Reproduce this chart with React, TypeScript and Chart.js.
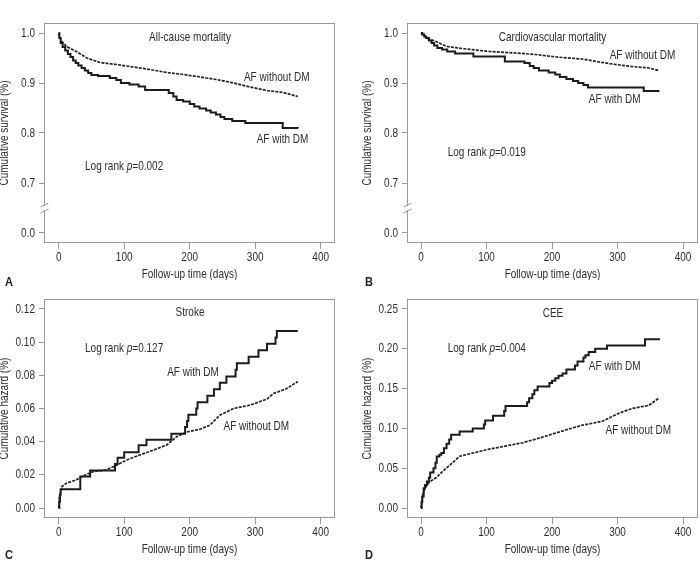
import React, { useEffect, useRef } from "react";
import { Chart, registerables } from "chart.js";

Chart.register(...registerables);

// ---------------- DATA ----------------
// Panel A – All-cause mortality (cumulative survival)
const allCauseWithDM: [number, number][] = [
  [0, 1.0], [1, 0.99], [3, 0.98], [6, 0.972], [10, 0.965], [14, 0.958], [18, 0.952],
  [22, 0.945], [26, 0.94], [30, 0.935], [35, 0.93], [40, 0.925], [45, 0.92], [50, 0.916],
  [60, 0.914], [78, 0.91], [88, 0.906], [95, 0.9], [108, 0.897], [122, 0.893], [132, 0.886],
  [168, 0.88], [175, 0.873], [180, 0.866], [190, 0.863], [200, 0.858], [207, 0.853],
  [215, 0.849], [225, 0.845], [232, 0.841], [240, 0.837], [247, 0.832], [253, 0.828],
  [265, 0.824], [285, 0.82], [342, 0.81], [365, 0.809],
];
const allCauseWithoutDM: [number, number][] = [
  [0, 1.0], [2, 0.99], [5, 0.983], [12, 0.973], [27, 0.963], [43, 0.95], [63, 0.941],
  [88, 0.937], [114, 0.932], [139, 0.927], [165, 0.921], [190, 0.917], [216, 0.912],
  [241, 0.907], [267, 0.9], [292, 0.892], [318, 0.885], [343, 0.881], [365, 0.873],
];

// Panel B – Cardiovascular mortality (cumulative survival)
const cvWithDM: [number, number][] = [
  [0, 1.0], [2, 0.997], [5, 0.993], [8, 0.99], [12, 0.985], [16, 0.98], [20, 0.975],
  [25, 0.97], [32, 0.967], [40, 0.963], [52, 0.959], [80, 0.953], [128, 0.943],
  [158, 0.94], [166, 0.934], [172, 0.93], [180, 0.925], [195, 0.921], [205, 0.917],
  [212, 0.912], [222, 0.908], [232, 0.904], [240, 0.9], [248, 0.896], [255, 0.891],
  [340, 0.884], [364, 0.884],
];
const cvWithoutDM: [number, number][] = [
  [0, 1.0], [8, 0.99], [23, 0.983], [39, 0.973], [69, 0.968], [104, 0.963], [145, 0.96],
  [175, 0.957], [206, 0.952], [246, 0.948], [272, 0.942], [297, 0.937], [322, 0.933],
  [348, 0.93], [363, 0.925],
];

// Panel C – Stroke (cumulative hazard)
const strokeWithDM: [number, number][] = [
  [0, 0], [1, 0.004], [2, 0.008], [3, 0.0114], [33, 0.019], [48, 0.0227], [86, 0.0265],
  [90, 0.0303], [100, 0.0337], [122, 0.0378], [134, 0.0412], [172, 0.0448], [193, 0.0488],
  [196, 0.0525], [198, 0.0562], [210, 0.06], [212, 0.0638], [227, 0.0677], [237, 0.0716],
  [246, 0.0755], [256, 0.0793], [270, 0.0833], [272, 0.0872], [290, 0.0912], [305, 0.0951],
  [318, 0.099], [331, 0.1028], [333, 0.1067], [365, 0.1067],
];
const strokeWithoutDM: [number, number][] = [
  [0, 0], [1, 0.007], [5, 0.013], [12, 0.015], [27, 0.017], [38, 0.0195], [53, 0.022],
  [73, 0.023], [89, 0.026], [104, 0.029], [124, 0.032], [145, 0.035], [165, 0.038],
  [180, 0.043], [195, 0.0458], [216, 0.0475], [231, 0.05], [246, 0.056], [267, 0.06],
  [292, 0.062], [318, 0.0657], [328, 0.069], [348, 0.072], [365, 0.0763],
];

// Panel D – CEE (cumulative hazard)
const ceeWithDM: [number, number][] = [
  [0, 0], [1, 0.008], [2, 0.0146], [4, 0.025], [6, 0.029], [9, 0.0334], [12, 0.038],
  [14, 0.0447], [19, 0.05], [22, 0.057], [24, 0.0648], [28, 0.067], [31, 0.069], [35, 0.075],
  [39, 0.0807], [43, 0.086], [46, 0.092], [59, 0.096], [79, 0.1], [96, 0.105], [98, 0.11],
  [110, 0.116], [127, 0.122], [129, 0.128], [162, 0.133], [165, 0.138], [170, 0.143],
  [173, 0.148], [178, 0.1526], [196, 0.157], [200, 0.16], [205, 0.163], [210, 0.166],
  [216, 0.169], [222, 0.174], [235, 0.179], [239, 0.184], [248, 0.189], [251, 0.192],
  [256, 0.196], [266, 0.2], [284, 0.204], [342, 0.212], [365, 0.212],
];
const ceeWithoutDM: [number, number][] = [
  [0, 0], [2, 0.0146], [6, 0.025], [13, 0.033], [23, 0.038], [33, 0.046], [44, 0.054],
  [59, 0.065], [84, 0.07], [104, 0.074], [130, 0.078], [155, 0.082], [175, 0.0865],
  [201, 0.093], [221, 0.098], [246, 0.104], [277, 0.109], [302, 0.119], [322, 0.125],
  [348, 0.129], [363, 0.138],
];

// Ticks
const xTickValues = [0, 100, 200, 300, 400];
const xTickLabels = ["0", "100", "200", "300", "400"];
const survivalTickValues = [0.6, 0.7, 0.8, 0.9, 1.0]; // 0.6 position shows broken-axis "0.0"
const survivalTickLabels = ["0.0", "0.7", "0.8", "0.9", "1.0"];
const strokeTickValues = [0, 0.02, 0.04, 0.06, 0.08, 0.1, 0.12];
const strokeTickLabels = ["0.00", "0.02", "0.04", "0.06", "0.08", "0.10", "0.12"];
const ceeTickValues = [0, 0.05, 0.1, 0.15, 0.2, 0.25];
const ceeTickLabels = ["0.00", "0.05", "0.10", "0.15", "0.20", "0.25"];

// Text
const xAxisTitle = "Follow-up time (days)";
const survivalTitle = "Cumulative survival (%)";
const hazardTitle = "Cumulative hazard (%)";
const withLabel = "AF with DM";
const withoutLabel = "AF without DM";

// ---------------- STYLE ----------------
const FONT = "'Liberation Sans', Arial, sans-serif";
const FONT_SIZE = 13;
const CONDENSE = 0.77;
const TEXT = "#2e2e2e";
const FRAME = "#9a9a9a";
const LINE = "#1c1c1c";

type Pt = [number, number];
interface PanelCfg {
  key: string;
  left: number;
  top: number;
  area: { l: number; r: number; t: number; b: number };
  xMin: number;
  xMax: number;
  yMin: number;
  yMax: number;
  yTicks: number[];
  yLabels: string[];
  yTitle: string;
  broken: boolean;
  withDM: Pt[];
  withoutDM: Pt[];
  title: string;
  titlePos: [number, number];
  logRank: string;
  logRankPos: [number, number];
  withPos: [number, number];
  withoutPos: [number, number];
}

const W = 350;
const H = 280;

const panels: PanelCfg[] = [
  {
    key: "A", left: 0, top: 0,
    area: { l: 44, r: 335, t: 23, b: 243 },
    xMin: -22.4, xMax: 421.8, yMin: 0.58, yMax: 1.02,
    yTicks: survivalTickValues, yLabels: survivalTickLabels, yTitle: survivalTitle, broken: true,
    withDM: allCauseWithDM, withoutDM: allCauseWithoutDM,
    title: "All-cause mortality", titlePos: [190, 37],
    logRank: "0.002", logRankPos: [85, 166],
    withPos: [282.5, 139], withoutPos: [276.7, 77],
  },
  {
    key: "B", left: 350, top: 0,
    area: { l: 57, r: 348, t: 23, b: 243 },
    xMin: -21.4, xMax: 422.9, yMin: 0.58, yMax: 1.02,
    yTicks: survivalTickValues, yLabels: survivalTickLabels, yTitle: survivalTitle, broken: true,
    withDM: cvWithDM, withoutDM: cvWithoutDM,
    title: "Cardiovascular mortality", titlePos: [202.5, 37],
    logRank: "0.019", logRankPos: [97.7, 152.5],
    withPos: [264.7, 99.3], withoutPos: [292.5, 55],
  },
  {
    key: "C", left: 0, top: 280,
    area: { l: 44, r: 335, t: 19, b: 238 },
    xMin: -22.4, xMax: 421.8, yMin: -0.006, yMax: 0.126,
    yTicks: strokeTickValues, yLabels: strokeTickLabels, yTitle: hazardTitle, broken: false,
    withDM: strokeWithDM, withoutDM: strokeWithoutDM,
    title: "Stroke", titlePos: [190, 32.5],
    logRank: "0.127", logRankPos: [85, 68.5],
    withPos: [193, 92.7], withoutPos: [256.3, 146.7],
  },
  {
    key: "D", left: 350, top: 280,
    area: { l: 57, r: 348, t: 19, b: 238 },
    xMin: -21.4, xMax: 422.9, yMin: -0.0125, yMax: 0.2625,
    yTicks: ceeTickValues, yLabels: ceeTickLabels, yTitle: hazardTitle, broken: false,
    withDM: ceeWithDM, withoutDM: ceeWithoutDM,
    title: "CEE", titlePos: [203, 33.5],
    logRank: "0.004", logRankPos: [97.7, 68.5],
    withPos: [264.7, 86], withoutPos: [288.3, 150.7],
  },
];

function fontStr(style = "normal") {
  return `${style} normal ${FONT_SIZE}px ${FONT}`;
}

// draw horizontally condensed text; returns drawn width
function drawText(
  ctx: CanvasRenderingContext2D,
  text: string,
  x: number,
  y: number,
  align: CanvasTextAlign,
  style = "normal",
  rotate = 0
) {
  ctx.save();
  ctx.font = fontStr(style);
  ctx.textAlign = align;
  ctx.textBaseline = "middle";
  ctx.translate(x, y);
  if (rotate) ctx.rotate(rotate);
  ctx.scale(CONDENSE, 1);
  ctx.fillText(text, 0, 0);
  const w = ctx.measureText(text).width * CONDENSE;
  ctx.restore();
  return w;
}

function Panel({ cfg }: { cfg: PanelCfg }) {
  const ref = useRef<HTMLCanvasElement | null>(null);

  useEffect(() => {
    if (!ref.current) return;
    const { area } = cfg;

    const overlay = {
      id: "overlay" + cfg.key,
      afterDraw(chart: any) {
        const ctx: CanvasRenderingContext2D = chart.ctx;
        const { left, right, top, bottom } = chart.chartArea;
        const xs = chart.scales.x;
        const ys = chart.scales.y;
        ctx.save();
        // frame
        ctx.strokeStyle = FRAME;
        ctx.lineWidth = 1;
        ctx.strokeRect(Math.round(left) + 0.5, Math.round(top) + 0.5, Math.round(right - left) - 1, Math.round(bottom - top) - 1);
        // axis break
        if (cfg.broken) {
          const y = ys.getPixelForValue(0.65);
          const x = Math.round(left) + 0.5;
          ctx.fillStyle = "#ffffff";
          ctx.fillRect(x - 2, y - 2, 4, 4);
          ctx.beginPath();
          ctx.moveTo(x - 4, y - 1);
          ctx.lineTo(x + 4, y - 5);
          ctx.moveTo(x - 4, y + 5);
          ctx.lineTo(x + 4, y + 1);
          ctx.stroke();
        }
        ctx.fillStyle = TEXT;
        // tick labels (positioned by the library's scales)
        xTickValues.forEach((v, i) => {
          drawText(ctx, xTickLabels[i], xs.getPixelForValue(v), bottom + 14.5, "center");
        });
        cfg.yTicks.forEach((v, i) => {
          drawText(ctx, cfg.yLabels[i], left - 9, ys.getPixelForValue(v), "right");
        });
        // axis titles
        drawText(ctx, xAxisTitle, (left + right) / 2, bottom + 31, "center");
        drawText(ctx, cfg.yTitle, left - 40, (top + bottom) / 2, "center", "normal", -Math.PI / 2);
        // annotations
        drawText(ctx, cfg.title, cfg.titlePos[0], cfg.titlePos[1], "center");
        drawText(ctx, withLabel, cfg.withPos[0], cfg.withPos[1], "center");
        drawText(ctx, withoutLabel, cfg.withoutPos[0], cfg.withoutPos[1], "center");
        // Log rank p=...
        let x = cfg.logRankPos[0];
        const y = cfg.logRankPos[1];
        x += drawText(ctx, "Log rank ", x, y, "left");
        x += drawText(ctx, "p", x, y, "left", "italic");
        drawText(ctx, "=" + cfg.logRank, x, y, "left");
        ctx.restore();
      },
    };

    const chart = new Chart(ref.current, {
      type: "line",
      data: {
        datasets: [
          {
            label: withLabel,
            data: cfg.withDM.map(([x, y]) => ({ x, y })),
            stepped: true,
            borderColor: LINE,
            borderWidth: 2,
            pointRadius: 0,
            fill: false,
          },
          {
            label: withoutLabel,
            data: cfg.withoutDM.map(([x, y]) => ({ x, y })),
            borderColor: "#222222",
            borderWidth: 1.7,
            borderDash: [3, 1.2],
            pointRadius: 0,
            fill: false,
            tension: 0,
          },
        ],
      },
      options: {
        animation: false,
        responsive: false,
        maintainAspectRatio: false,
        layout: { padding: { left: 0, top: area.t, right: W - area.r, bottom: 0 } },
        plugins: { legend: { display: false }, tooltip: { enabled: false } },
        scales: {
          x: {
            type: "linear",
            min: cfg.xMin,
            max: cfg.xMax,
            afterBuildTicks: (s: any) => {
              s.ticks = xTickValues.map((v) => ({ value: v }));
            },
            afterFit: (s: any) => {
              s.height = H - area.b;
            },
            grid: { drawOnChartArea: false, tickLength: 6, color: FRAME },
            border: { display: false },
            ticks: { display: false, autoSkip: false },
          },
          y: {
            type: "linear",
            min: cfg.yMin,
            max: cfg.yMax,
            afterBuildTicks: (s: any) => {
              s.ticks = cfg.yTicks.map((v) => ({ value: v }));
            },
            afterFit: (s: any) => {
              s.width = area.l;
            },
            grid: { drawOnChartArea: false, tickLength: 5, color: FRAME },
            border: { display: false },
            ticks: { display: false, autoSkip: false },
          },
        },
      },
      plugins: [overlay],
    } as any);

    return () => chart.destroy();
  }, [cfg]);

  return (
    <canvas
      ref={ref}
      width={W}
      height={H}
      style={{ position: "absolute", left: cfg.left, top: cfg.top, width: W, height: H }}
    />
  );
}

const letters: { t: string; x: number; y: number }[] = [
  { t: "A", x: 5, y: 275 },
  { t: "B", x: 365, y: 275 },
  { t: "C", x: 5, y: 548 },
  { t: "D", x: 365, y: 548 },
];

export default function App() {
  return (
    <div
      style={{
        position: "absolute",
        left: 0,
        top: 0,
        width: 700,
        height: 561,
        background: "#ffffff",
        overflow: "hidden",
      }}
    >
      {panels.map((p) => (
        <Panel key={p.key} cfg={p} />
      ))}
      {letters.map((l) => (
        <div
          key={l.t}
          style={{
            position: "absolute",
            left: l.x,
            top: l.y,
            fontFamily: "'Liberation Sans', Arial, sans-serif",
            fontWeight: "bold",
            fontSize: 13,
            lineHeight: "13px",
            color: "#222",
            transform: "scaleX(0.85)",
            transformOrigin: "left top",
          }}
        >
          {l.t}
        </div>
      ))}
    </div>
  );
}
